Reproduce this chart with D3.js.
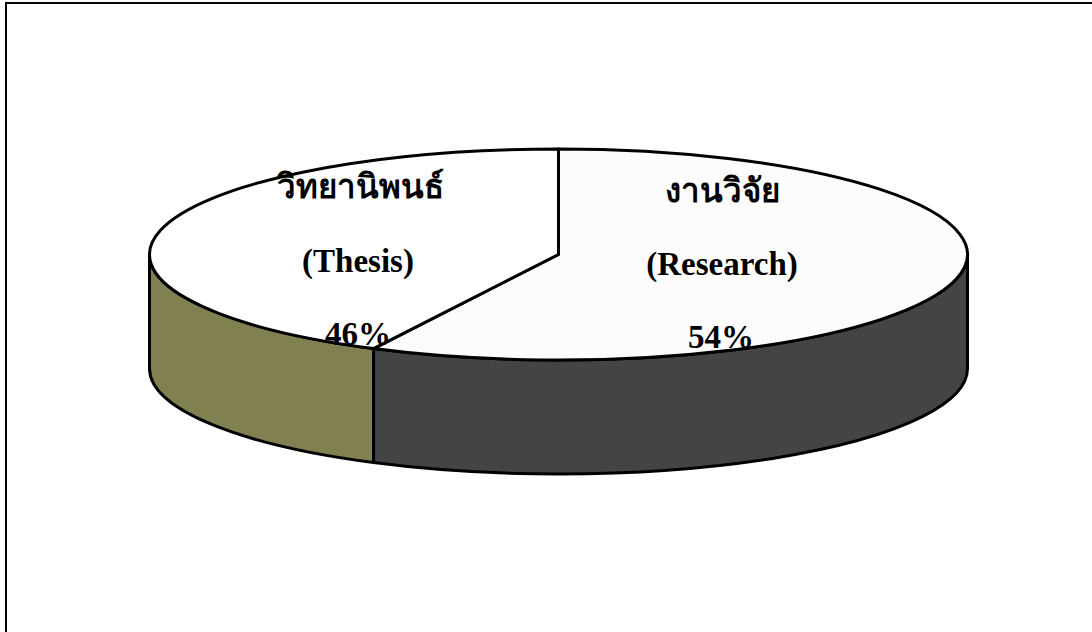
<!DOCTYPE html>
<html>
<head>
<meta charset="utf-8">
<script src="https://cdn.jsdelivr.net/npm/d3@7"></script>
<style>
  html, body { margin: 0; padding: 0; background: #fff; }
  svg { display: block; }
  text { font-family: "Liberation Serif", "Noto Sans", serif; font-weight: bold; font-size: 33px; fill: #000; text-anchor: middle; }
</style>
</head>
<body>
<div id="chart"></div>
<script>
// Data
var categories = ['Research', 'Thesis']
var shares = [54, 46]
var sliceLabels = [
  ['งานวิจัย', '(Research)', '54%'],
  ['วิทยานิพนธ์', '(Thesis)', '46%']
]

// Layout variables
var width = 1092
var height = 632
var cx = 558.5
var cy = 254.5
var rx = 409
var ry = 105.5
var depth = 114
var topColours = ['#fcfcfc', '#ffffff']
var sideColours = ['#444444', '#808050']
var labelPos = [
  [[722, 202], [722, 275], [721, 348]],
  [[360, 198], [358, 272], [358, 345]]
]

// The tilted 3D pie widens the slices near its sides
var spread = 1.975
function project (a) {
  var p = Math.atan2(spread * Math.sin(a), Math.cos(a))
  return p < 0 ? p + 2 * Math.PI : p
}

var svg = d3.select('#chart').append('svg')
  .attr('width', width)
  .attr('height', height)

// Frame, the right edge is cut off in the picture
svg.append('path')
  .attr('d', 'M6,632V3H1092')
  .attr('fill', 'none')
  .attr('stroke', '#000')
  .attr('stroke-width', 2)

var pie = d3.pie().sort(null)
var slices = pie(shares).map(function (d, i) {
  return {
    name: categories[i],
    startAngle: i === 0 ? 0 : project(d.startAngle),
    endAngle: i === shares.length - 1 ? 2 * Math.PI : project(d.endAngle)
  }
})

function ex (a) { return cx + rx * Math.sin(a) }
function ey (a) { return cy - ry * Math.cos(a) }

// Side wall, only the front half of the rim can be seen
function wall (d) {
  var a0 = Math.max(d.startAngle, Math.PI / 2)
  var a1 = Math.min(d.endAngle, 3 * Math.PI / 2)
  if (a1 <= a0) return null
  var r = rx + ',' + ry
  return 'M' + ex(a0) + ',' + ey(a0) +
    'A' + r + ' 0 0 1 ' + ex(a1) + ',' + ey(a1) +
    'v' + depth +
    'A' + r + ' 0 0 0 ' + ex(a0) + ',' + (ey(a0) + depth) + 'Z'
}

svg.append('g').selectAll('path')
  .data(slices)
  .enter().append('path')
  .attr('d', wall)
  .attr('fill', function (d, i) { return sideColours[i] })
  .attr('stroke', '#000')
  .attr('stroke-width', 3)
  .attr('stroke-linejoin', 'round')

// Top face, a flat arc squashed into an ellipse
var arc = d3.arc().innerRadius(0).outerRadius(rx)

svg.append('g')
  .attr('transform', 'translate(' + cx + ',' + cy + ') scale(1,' + (ry / rx) + ')')
  .selectAll('path')
  .data(slices)
  .enter().append('path')
  .attr('d', arc)
  .attr('fill', function (d, i) { return topColours[i] })
  .attr('stroke', '#000')
  .attr('stroke-width', 3)
  .attr('stroke-linejoin', 'round')
  .attr('vector-effect', 'non-scaling-stroke')

// Labels
sliceLabels.forEach(function (lines, i) {
  lines.forEach(function (line, j) {
    svg.append('text')
      .attr('x', labelPos[i][j][0])
      .attr('y', labelPos[i][j][1])
      .text(line)
  })
})
</script>
</body>
</html>
